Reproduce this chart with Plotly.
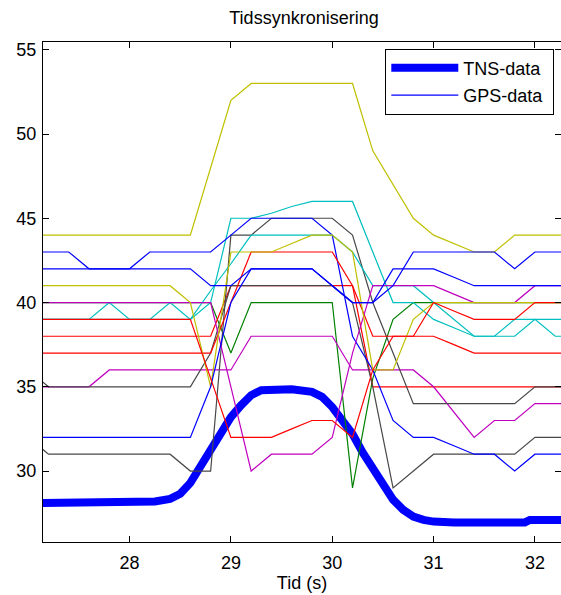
import plotly.graph_objects as go

# ---------------- data ----------------
tns_t = [27.1, 28.2, 28.25, 28.4, 28.5, 28.6, 28.7, 28.8, 28.9, 29.0, 29.1, 29.2, 29.3, 29.4,
         29.6, 29.8, 29.9, 30.0, 30.1, 30.2, 30.3, 30.4, 30.5, 30.6, 30.7, 30.8, 30.9, 31.0,
         31.2, 31.9, 31.95, 32.4]
tns_v = [28.1, 28.1, 28.2, 28.35, 28.65, 29.3, 30.3, 31.3, 32.3, 33.2, 33.9, 34.5, 34.8, 34.85,
         34.85, 34.7, 34.4, 33.8, 33.0, 32.2, 31.1, 30.1, 29.1, 28.3, 27.7, 27.3, 27.1, 27.0,
         26.95, 26.95, 27.1, 27.1]

gps_t = [27.0, 27.2, 27.4, 27.6, 27.8, 28.0, 28.2, 28.4, 28.6, 28.8, 29.0, 29.2, 29.4, 29.6,
         29.8, 30.0, 30.2, 30.4, 30.6, 30.8, 31.0, 31.2, 31.4, 31.6, 31.8, 32.0, 32.2, 32.4]

green_a = [40, 40, 40, 40, 40, 40, 40, 40, 40, 40, 37, 40, 40, 40, 40, 40, 29, 35.5, 39, 40, 40, 40, 40, 40, 40, 40, 40, 40]
red_b   = [38, 38, 38, 38, 38, 38, 38, 38, 38, 38, 41, 41, 41, 41, 41, 41, 41, 35, 35, 35, 35, 35, 35, 35, 35, 35, 35, 35]
cyan_a  = [39, 39, 39, 39, 40, 39, 39, 40, 39, 40, 45, 45, 45.3, 45.7, 46, 46, 46, 43, 40, 40, 39, 38.5, 38, 38, 39, 39, 39, 39]
mag_b   = [35, 35, 35, 35, 36, 36, 36, 36, 36, 36, 36, 38, 38, 38, 38, 38, 36, 36, 36, 36, 35, 33.5, 32, 33, 33, 34, 34, 34]
olive_a = [44, 44, 44, 44, 44, 44, 44, 44, 44, 48, 52, 53, 53, 53, 53, 53, 53, 49, 47, 45, 44, 43.5, 43, 43, 44, 44, 44, 44]
gray_a  = [36, 35, 35, 35, 35, 35, 35, 35, 35, 37, 41, 41, 41, 41, 41, 41, 40, 35, 29, 30, 31, 31, 31, 31, 31, 32, 32, 32]
gray_b  = [32, 31, 31, 31, 31, 31, 31, 31, 30, 30, 44, 44, 45, 45, 45, 45, 44, 40, 37, 34, 34, 34, 34, 34, 34, 35, 35, 35]
blue_a  = [43, 43, 43, 42, 42, 42, 43, 43, 43, 43, 44, 45, 45, 45, 45, 44, 38, 36, 33, 32, 32, 31.5, 31, 31, 30, 31, 31, 31]
red_c   = [37, 37, 37, 37, 37, 37, 37, 37, 37, 37, 40, 43, 43, 43, 43, 43, 41, 38, 38, 38, 38, 37.5, 37, 37, 37, 37, 37, 37]
cyan_b  = [39, 39, 39, 39, 39, 39, 39, 39, 39, 40.7, 42.3, 44, 44, 44, 44, 44, 43, 41, 41, 41, 40, 39, 38, 38, 38, 39, 38, 38]
mag_a   = [40, 40, 40, 40, 40, 40, 40, 40, 40, 40, 35, 30, 31, 31, 31, 32, 37, 41, 41, 41, 41, 40.5, 40, 40, 40, 41, 41, 41]
olive_b = [41, 41, 41, 41, 41, 41, 41, 41, 40, 35, 43, 43, 43, 43.5, 44, 44, 43, 36, 36, 39, 40, 40, 40, 40, 40, 40, 40, 40]
blue_c  = [32, 32, 32, 32, 32, 32, 32, 32, 32, 35, 40, 42, 42, 42, 42, 41, 40, 40, 41, 43, 43, 43, 43, 43, 42, 43, 43, 43]
blue_b  = [42, 42, 42, 42, 42, 42, 42, 42, 42, 41, 41, 42, 42, 42, 42, 41, 40, 40, 42, 42, 42, 41.5, 41, 41, 41, 41, 41, 41]
red_a   = [39, 39, 39, 39, 39, 39, 39, 39, 39, 35.5, 32, 32, 32, 32.5, 33, 33, 32, 36, 38, 38, 40, 39.5, 39, 39, 39, 40, 40, 40]

x_ticks = [28, 29, 30, 31, 32]
y_ticks = [30, 35, 40, 45, 50, 55]

# ---------------- styles ----------------
BLUE = "rgb(0,0,255)"
GREEN = "rgb(0,128,0)"
RED = "rgb(255,0,0)"
CYAN = "rgb(0,191,191)"
MAG = "rgb(191,0,191)"
OLIVE = "rgb(191,191,0)"
GRAY = "rgb(72,72,72)"

series = [
    (green_a, GREEN), (red_b, RED), (cyan_a, CYAN), (mag_b, MAG), (olive_a, OLIVE),
    (gray_a, GRAY), (gray_b, GRAY), (blue_a, BLUE), (red_c, RED), (cyan_b, CYAN),
    (mag_a, MAG), (olive_b, OLIVE), (blue_c, BLUE), (blue_b, BLUE), (red_a, RED),
]

FONT = "Liberation Sans, Arial, sans-serif"

fig = go.Figure()
fig.add_trace(go.Scatter(x=tns_t, y=tns_v, mode="lines", name="TNS-data\u00a0",
                         line=dict(color=BLUE, width=8), legendgroup="a"))
for vals, col in series:
    is_leg = vals is blue_a
    fig.add_trace(go.Scatter(x=gps_t, y=vals, mode="lines", name="GPS-data\u00a0",
                             line=dict(color=col, width=1.2),
                             showlegend=is_leg, legendgroup="b" if is_leg else None))

axis_common = dict(showline=True, linecolor="black", linewidth=1, mirror="ticks",
                   ticks="inside", ticklen=6, tickcolor="black", showgrid=False,
                   zeroline=False, tickfont=dict(family=FONT, size=18, color="black"))

fig.update_layout(
    width=561, height=595,
    margin=dict(l=43, r=0, t=42, b=53),
    plot_bgcolor="white", paper_bgcolor="white",
    title=dict(text="Tidssynkronisering", x=304 / 561, xref="container", xanchor="center",
               y=1 - 18 / 595, yref="container", yanchor="middle",
               font=dict(family=FONT, size=18, color="black")),
    xaxis=dict(range=[27.146, 32.257], tickvals=x_ticks, ticklabelstandoff=4,
               title=dict(text="Tid (s)", font=dict(family=FONT, size=18, color="black"), standoff=4),
               **axis_common),
    yaxis=dict(range=[25.79, 55.46], tickvals=y_ticks, ticklabelstandoff=2, **axis_common),
    legend=dict(x=(554.3 - 43) / 518, xanchor="right", y=1 - (48.5 - 42) / 500, yanchor="top",
                bordercolor="black", borderwidth=1, bgcolor="white",
                font=dict(family=FONT, size=18, color="black"),
                itemwidth=67, tracegroupgap=1),
    showlegend=True,
)

fig.write_html("out.html", config={"displayModeBar": False},
               post_script="document.body.style.margin='0';document.body.style.overflow='hidden';")
